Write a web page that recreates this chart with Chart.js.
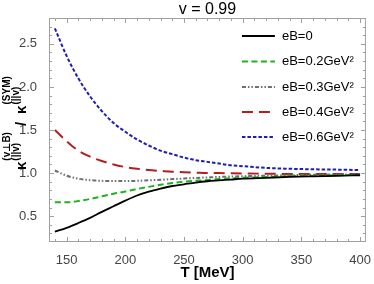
<!DOCTYPE html>
<html>
<head>
<meta charset="utf-8">
<script src="https://cdn.jsdelivr.net/npm/chart.js@4/dist/chart.umd.min.js"></script>
<style>
html,body{margin:0;padding:0;background:#fff;}
#c{display:block;}
</style>
</head>
<body>
<canvas id="c" width="374" height="284"></canvas>
<script>
// ---- data ----
const temps = [140,150,160,170,180,190,200,210,220,230,240,250,260,270,280,290,300,320,340,360,380,400];
const eB0   = [0.32,0.365,0.42,0.48,0.55,0.615,0.68,0.74,0.785,0.82,0.85,0.87,0.89,0.905,0.915,0.925,0.935,0.945,0.955,0.962,0.968,0.975];
const eB02  = [0.66,0.66,0.675,0.70,0.73,0.76,0.785,0.815,0.84,0.865,0.885,0.90,0.91,0.92,0.93,0.94,0.945,0.955,0.965,0.97,0.975,0.98];
const eB03  = [1.03,0.97,0.935,0.918,0.91,0.907,0.907,0.91,0.916,0.922,0.93,0.937,0.944,0.95,0.955,0.96,0.964,0.97,0.975,0.98,0.983,0.985];
const eB04  = [1.50,1.37,1.26,1.19,1.14,1.10,1.07,1.05,1.035,1.025,1.015,1.01,1.005,1.0,1.0,0.997,0.995,0.993,0.99,0.99,0.99,0.99];
const eB06  = [2.68,2.36,2.10,1.89,1.72,1.58,1.48,1.39,1.32,1.26,1.22,1.18,1.15,1.13,1.11,1.09,1.08,1.06,1.05,1.044,1.04,1.035];
const seriesNames = ['eB=0','eB=0.2GeV²','eB=0.3GeV²','eB=0.4GeV²','eB=0.6GeV²'];
const xTicks = [150,200,250,300,350,400];
const yTicks = [0.5,1.0,1.5,2.0,2.5];
const titleText = 'v = 0.99';
const xTitle = 'T [MeV]';

const FONT = '"Liberation Sans", Arial, "DejaVu Sans", sans-serif';

const styles = [
  {color:'#000000', dash:[], width:1.8},
  {color:'#1db31d', dash:[6,3.5], width:2},
  {color:'#6e6e6e', dash:[4,2,1.5,2,1.5,2], width:2},
  {color:'#b51e1e', dash:[11,6], width:2},
  {color:'#1e1eb4', dash:[3.5,2], width:2}
];
const allSeries = [eB0,eB02,eB03,eB04,eB06];

const datasets = allSeries.map((s,i)=>({
  label: seriesNames[i],
  data: temps.map((t,j)=>({x:t,y:s[j]})),
  borderColor: styles[i].color,
  borderDash: styles[i].dash,
  borderWidth: styles[i].width,
  pointRadius: 0,
  fill: false,
  cubicInterpolationMode: 'monotone'
}));

const framePlugin = {
  id:'frame',
  beforeDatasetsDraw(chart){
    const {ctx, chartArea:a, scales:{x,y}} = chart;
    ctx.save();
    ctx.strokeStyle = '#a0a0a0';
    ctx.lineWidth = 1;
    ctx.strokeRect(a.left+0.5, a.top+0.5, a.right-a.left-1, a.bottom-a.top-1);
    ctx.beginPath();
    for(let v=140; v<=400; v+=10){
      const px = Math.round(x.getPixelForValue(v))+0.5;
      const L = (v%50===0)?5:3;
      ctx.moveTo(px,a.bottom); ctx.lineTo(px,a.bottom-L);
      ctx.moveTo(px,a.top); ctx.lineTo(px,a.top+L);
    }
    for(let k=3; k<=27; k++){
      const v = k/10;
      const py = Math.round(y.getPixelForValue(v))+0.5;
      const L = (k%5===0)?5:3;
      ctx.moveTo(a.left,py); ctx.lineTo(a.left+L,py);
      ctx.moveTo(a.right,py); ctx.lineTo(a.right-L,py);
    }
    ctx.stroke();
    ctx.restore();
  },
  afterDraw(chart){
    const {ctx, chartArea:a} = chart;
    ctx.save();
    ctx.fillStyle = '#000';
    ctx.font = '16px '+FONT;
    ctx.textAlign = 'center';
    ctx.textBaseline = 'middle';
    ctx.fillText(titleText, (a.left+a.right)/2, 10);
    ctx.font = 'bold 15px '+FONT;
    ctx.fillText(xTitle, (a.left+a.right)/2, 273);
    ctx.textAlign = 'left';
    ctx.font = '13px '+FONT;
    const ys = [36,61.5,87,112,137];
    chart.data.datasets.forEach((ds,i)=>{
      const yy = ys[i];
      ctx.save();
      ctx.strokeStyle = ds.borderColor;
      ctx.lineWidth = ds.borderWidth;
      ctx.setLineDash(ds.borderDash);
      ctx.beginPath();
      ctx.moveTo(a.right-124, yy); ctx.lineTo(a.right-91, yy);
      ctx.stroke();
      ctx.restore();
      ctx.fillStyle = '#000';
      ctx.fillText(ds.label, a.right-84, yy);
    });
    // y title
    ctx.translate(26, 170);
    ctx.rotate(-Math.PI/2);
    ctx.textAlign = 'left';
    ctx.textBaseline = 'alphabetic';
    let xpos = 0;
    const big = 'bold 15px '+FONT, small = 'bold 10px '+FONT;
    function base(t){ ctx.font=big; ctx.fillText(t,xpos,0); xpos += ctx.measureText(t).width; }
    function scripts(sup,sub){
      ctx.font=small;
      const w1=ctx.measureText(sup).width, w2=ctx.measureText(sub).width;
      ctx.fillText(sup,xpos+1,-16.5);
      ctx.fillText(sub,xpos+1,-7);
      xpos += Math.max(w1,w2)+2;
    }
    base('κ'); scripts('(v⊥B)','(||v)');
    xpos += 5; base('/'); xpos += 8;
    base('κ'); scripts('(SYM)','(||v)');
    ctx.restore();
  }
};

new Chart(document.getElementById('c'), {
  type:'line',
  data:{datasets},
  options:{
    responsive:false,
    devicePixelRatio:1,
    animation:false,
    layout:{padding:{top:18,right:5,left:0,bottom:0}},
    plugins:{legend:{display:false}, tooltip:{enabled:false}, title:{display:false}},
    scales:{
      x:{
        type:'linear', min:135, max:405,
        afterBuildTicks(s){ s.ticks = xTicks.map(v=>({value:v})); },
        afterFit(s){ s.height = 42; },
        grid:{display:false}, border:{display:false},
        ticks:{font:{size:13, family:FONT}, color:'#444', padding:3, maxRotation:0, autoSkip:false}
      },
      y:{
        type:'linear', min:0.2, max:2.8,
        afterBuildTicks(s){ s.ticks = yTicks.map(v=>({value:v})); },
        afterFit(s){ s.width = 49; },
        grid:{display:false}, border:{display:false},
        ticks:{font:{size:13, family:FONT}, color:'#444', padding:4, callback:v=>v.toFixed(1)}
      }
    }
  },
  plugins:[framePlugin]
});
</script>
</body>
</html>
